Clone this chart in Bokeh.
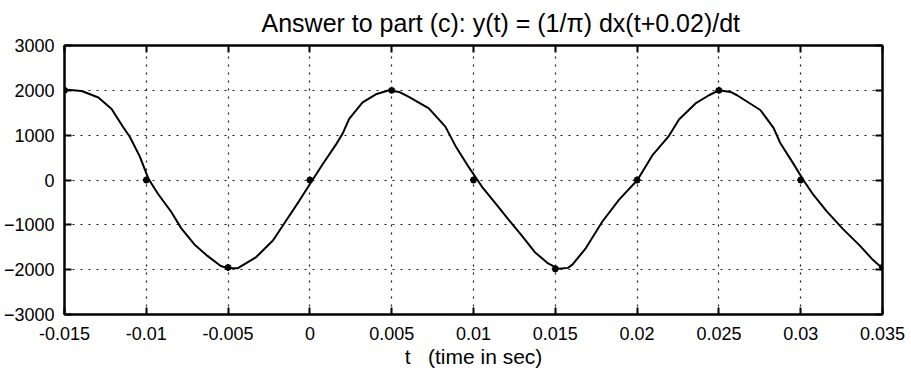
from bokeh.plotting import figure
from bokeh.models import (Range1d, FixedTicker, LinearAxis, CustomJSTickFormatter)
from bokeh.embed import file_html
from bokeh.resources import INLINE

# ---- data ----
curve_t = [-0.0150, -0.01395, -0.01293, -0.01212, -0.01142, -0.01101, -0.0104, -0.00986,
           -0.00929, -0.00848, -0.00787, -0.00706, -0.00626, -0.00545, -0.00504, -0.00443,
           -0.00328, -0.00226, -0.00145, -0.00064, 0.00007, 0.00078, 0.00159, 0.0020,
           0.0024, 0.00322, 0.00403, 0.00484, 0.00545, 0.00605, 0.00727, 0.00828,
           0.00889, 0.0097, 0.01051, 0.01132, 0.01213, 0.01294, 0.01375, 0.01456,
           0.01517, 0.01578, 0.01606, 0.01687, 0.01789, 0.0189, 0.02002, 0.02093,
           0.02195, 0.02256, 0.02357, 0.02439, 0.0250, 0.02571, 0.02611, 0.02753,
           0.02834, 0.02874, 0.02955, 0.03016, 0.03077, 0.03158, 0.03259, 0.0336,
           0.03441, 0.03492, 0.0350]
curve_y = [2020, 1985, 1840, 1584, 1182, 964, 526, 22,
           -307, -708, -1073, -1438, -1693, -1920, -1964, -1970,
           -1719, -1348, -904, -459, -52, 350, 788, 1036,
           1365, 1730, 1912, 2000, 1964, 1853, 1596, 1190,
           766, 292, -146, -511, -876, -1234, -1610, -1861,
           -1978, -1960, -1883, -1518, -920, -438, 0, 547,
           985, 1350, 1708, 1890, 2000, 1964, 1890, 1562,
           1161, 832, 365, 0, -328, -693, -1095, -1458,
           -1780, -1948, -1970]

sample_t = [-0.015, -0.01, -0.005, 0.0, 0.005, 0.01, 0.015, 0.02, 0.025, 0.03, 0.035]
sample_y = [2000, 0, -1950, 0, 2000, 0, -1980, 0, 2000, 0, -1950]

x_ticks = [-0.015, -0.01, -0.005, 0.0, 0.005, 0.01, 0.015, 0.02, 0.025, 0.03, 0.035]
y_ticks = [-3000, -2000, -1000, 0, 1000, 2000, 3000]

title_text = "Answer to part (c): y(t) = (1/\u03c0) dx(t+0.02)/dt"
x_label = "t\u00a0\u00a0\u00a0(time in sec)"

FONT = "Liberation Sans"

p = figure(width=911, height=370, output_backend="svg", toolbar_location=None,
           x_range=Range1d(-0.015, 0.035), y_range=Range1d(-3000, 3000),
           min_border_left=62, min_border_right=29, min_border_top=45, min_border_bottom=55,
           title=title_text)
p.title.text_font = FONT
p.title.text_font_size = "25px"
p.title.text_font_style = "normal"
p.title.text_color = "black"
p.title.align = "left"
p.title.vertical_align = "top"
p.title.offset = 197
p.title.standoff = 14

p.outline_line_color = "black"
p.outline_line_width = 2
p.outline_line_alpha = 1.0
p.background_fill_color = "white"
p.border_fill_color = "white"

fmt = CustomJSTickFormatter(code="return String(Number(tick.toFixed(4)));")
blank = CustomJSTickFormatter(code="return '';")

for ax in p.xaxis:
    ax.ticker = FixedTicker(ticks=x_ticks)
    ax.formatter = fmt
    ax.major_label_standoff = 12
    ax.axis_label = x_label
    ax.axis_label_text_font = FONT
    ax.axis_label_text_font_size = "21px"
    ax.axis_label_text_font_style = "normal"
    ax.axis_label_text_color = "black"
    ax.axis_label_standoff = 2
for ax in p.yaxis:
    ax.ticker = FixedTicker(ticks=y_ticks)
    ax.major_label_standoff = 10

for ax in list(p.xaxis) + list(p.yaxis):
    ax.major_tick_in = 7
    ax.major_tick_out = 0
    ax.minor_tick_in = 0
    ax.minor_tick_out = 0
    ax.major_tick_line_width = 2
    ax.major_tick_line_color = "black"
    ax.axis_line_color = "black"
    ax.axis_line_width = 2
    ax.major_label_text_font = FONT
    ax.major_label_text_font_size = "18px"
    ax.major_label_text_color = "black"

# top and right inward ticks (no labels)
top = LinearAxis(ticker=FixedTicker(ticks=x_ticks), formatter=blank,
                 major_label_text_font_size="1px",
                 major_tick_in=7, major_tick_out=0, minor_tick_in=0, minor_tick_out=0,
                 major_tick_line_width=2, axis_line_width=2, major_label_standoff=0)
right = LinearAxis(ticker=FixedTicker(ticks=y_ticks), formatter=blank,
                   major_label_text_font_size="1px",
                   major_tick_in=7, major_tick_out=0, minor_tick_in=0, minor_tick_out=0,
                   major_tick_line_width=2, axis_line_width=2, major_label_standoff=0)
p.add_layout(top, "above")
p.add_layout(right, "right")

for g in [p.xgrid[0], p.ygrid[0]]:
    g.grid_line_color = "black"
    g.grid_line_dash = "2 6"
    g.grid_line_width = 1.2
    g.grid_line_alpha = 0.9
p.xgrid[0].ticker = FixedTicker(ticks=x_ticks)
p.ygrid[0].ticker = FixedTicker(ticks=y_ticks)

p.line(curve_t, curve_y, line_color="black", line_width=2)
p.scatter(sample_t, sample_y, marker="asterisk", size=7, line_color="black", line_width=2)

open("out.html", "w").write(file_html(p, INLINE))
